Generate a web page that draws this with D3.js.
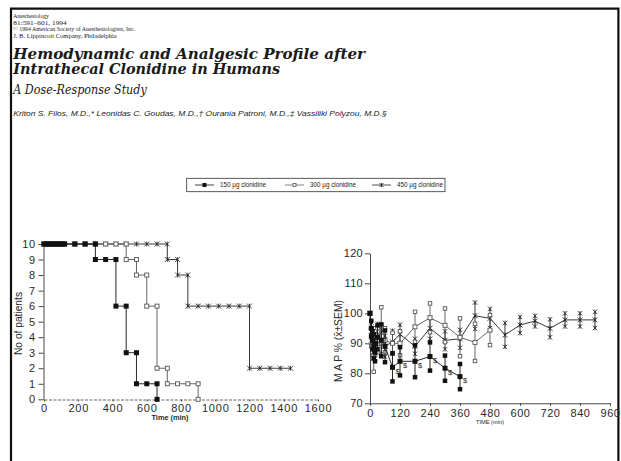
<!DOCTYPE html>
<html>
<head>
<meta charset="utf-8">
<script src="https://cdn.jsdelivr.net/npm/d3@7"></script>
<style>
  html, body { margin: 0; padding: 0; background: #fff; }
  svg { display: block; }
</style>
</head>
<body>
<svg id="page" width="621" height="461"></svg>
<script>
// ---- article header text ----
const headerLines = [
  "Anesthesiology",
  "81:591–601, 1994",
  "© 1994 American Society of Anesthesiologists, Inc.",
  "J. B. Lippincott Company, Philadelphia"
];
const titleLines = ["Hemodynamic and Analgesic Profile after", "Intrathecal Clonidine in Humans"];
const subtitle = "A Dose-Response Study";
const authors = "Kriton S. Filos, M.D.,* Leonidas C. Goudas, M.D.,† Ourania Patroni, M.D.,‡ Vassiliki Polyzou, M.D.§";

// ---- legend ----
const doseLabels = ["150 µg clonidine", "300 µg clonidine", "450 µg clonidine"];
const doseSymbols = ["filled", "open", "cross"];

// ---- left panel: number of patients still without pain, by time (min) ----
const patientTicks = [0, 1, 2, 3, 4, 5, 6, 7, 8, 9, 10];
const timeTicksLeft = [0, 200, 400, 600, 800, 1000, 1200, 1400, 1600];

const kmTime150  = [0, 15, 30, 45, 60, 75, 90, 105, 120, 180, 240, 300, 300, 360, 420, 420, 480, 480, 540, 540, 600, 660, 660];
const kmCount150 = [10, 10, 10, 10, 10, 10, 10, 10, 10, 10, 10, 10, 9, 9, 9, 6, 6, 3, 3, 1, 1, 1, 0];

const kmTime300  = [0, 15, 30, 45, 60, 75, 90, 105, 120, 180, 240, 300, 360, 420, 480, 480, 540, 540, 600, 600, 660, 660, 720, 720, 780, 840, 900, 900];
const kmCount300 = [10, 10, 10, 10, 10, 10, 10, 10, 10, 10, 10, 10, 10, 10, 10, 9, 9, 8, 8, 6, 6, 2, 2, 1, 1, 1, 1, 0];

const kmTime450  = [0, 15, 30, 45, 60, 75, 90, 105, 120, 180, 240, 300, 360, 420, 480, 540, 600, 660, 720, 720, 780, 780, 840, 840, 900, 960, 1020, 1080, 1140, 1200, 1200, 1260, 1320, 1380, 1440];
const kmCount450 = [10, 10, 10, 10, 10, 10, 10, 10, 10, 10, 10, 10, 10, 10, 10, 10, 10, 10, 10, 9, 9, 8, 8, 6, 6, 6, 6, 6, 6, 6, 2, 2, 2, 2, 2];

// ---- right panel: mean arterial pressure, % of baseline (mean ± SEM) ----
const mapTicks = [70, 80, 90, 100, 110, 120];
const timeTicksRight = [0, 120, 240, 360, 480, 600, 720, 840, 960];

const mapTime150 = [0, 5, 10, 15, 20, 30, 45, 60, 90, 120, 180, 240, 300, 360];
const mapMean150 = [100, 95, 91, 89, 87, 92, 91, 89, 82, 84, 84, 85.6, 81.7, 78.9];
const mapSem150  = [0, 2.5, 3, 4, 3, 4, 5.3, 5.3, 4.7, 4.7, 5.3, 4.7, 4.2, 4.2];
const sigTime150 = [90, 120, 180, 240, 300, 360];

const mapTime300 = [0, 5, 10, 15, 20, 30, 45, 60, 90, 120, 180, 240, 300, 360, 420, 480];
const mapMean300 = [100, 92, 89, 86, 90, 91, 96, 91, 90, 90, 95.5, 98.5, 96, 92, 90.3, 94.4];
const mapSem300  = [0, 3, 4, 5.5, 4, 4, 6, 4, 3.5, 4, 5, 4.8, 5.6, 6.3, 6.2, 5];

const mapTime450 = [0, 5, 10, 15, 20, 30, 45, 60, 90, 120, 180, 240, 300, 360, 420, 480, 540, 600, 660, 720, 780, 840, 900];
const mapMean450 = [100, 94, 92, 90, 88, 93, 90, 89, 90.5, 93, 89, 95, 91, 91.5, 99.2, 98.3, 92.8, 96.1, 97.4, 95, 97.8, 97.8, 97.8];
const mapSem450  = [0, 3, 3, 3, 3, 3.5, 3.5, 3.5, 3.7, 3.2, 2.5, 3.5, 3, 3, 4.4, 3.2, 4, 2.7, 1.8, 3, 2.2, 2.2, 2.7];

// ---------------------------------------------------------------
const svg = d3.select("#page");
const SANS = "'Liberation Sans', Arial, sans-serif";
const SERIF = "'DejaVu Serif', 'Liberation Serif', serif";
const TIMES = "'Liberation Serif', 'Times New Roman', serif";
const INK = "#1a1a1a";

// page frame
svg.append("path")
  .attr("d", "M11,461 V8.6 H618.4 V461")
  .attr("fill", "none").attr("stroke", "#111").attr("stroke-width", 2.2);

// fit a text element to a given width
function fitted(sel, width) {
  return sel.attr("textLength", width).attr("lengthAdjust", "spacingAndGlyphs");
}

// header block
const headerWidths = [35.7, 53.4, 121.7, 103.4];
headerLines.forEach((s, i) => {
  fitted(svg.append("text")
    .attr("x", 13.3).attr("y", 17.8 + i * 6.8)
    .attr("font-family", TIMES).attr("font-size", 6).attr("fill", INK)
    .text(s), headerWidths[i]);
});

const titleWidths = [351.7, 266.7];
titleLines.forEach((s, i) => {
  fitted(svg.append("text")
    .attr("x", 13.3).attr("y", 59.3 + i * 15)
    .attr("font-family", SERIF).attr("font-size", 14.5)
    .attr("font-weight", "bold").attr("font-style", "italic").attr("fill", INK)
    .text(s), titleWidths[i]);
});

fitted(svg.append("text")
  .attr("x", 13.3).attr("y", 94)
  .attr("font-family", SERIF).attr("font-size", 12.5)
  .attr("font-style", "italic").attr("fill", INK)
  .text(subtitle), 133.4);

fitted(svg.append("text")
  .attr("x", 13.3).attr("y", 115.7)
  .attr("font-family", SANS).attr("font-size", 8)
  .attr("font-style", "italic").attr("fill", INK)
  .text(authors), 373.4);

// ---- markers ----
function markers(g, kind, pts, size, color) {
  const h = size / 2;
  if (kind === "filled") {
    g.selectAll(null).data(pts).join("rect")
      .attr("x", d => d[0] - h).attr("y", d => d[1] - h)
      .attr("width", size).attr("height", size)
      .attr("fill", "#111");
  } else if (kind === "open") {
    g.selectAll(null).data(pts).join("rect")
      .attr("x", d => d[0] - h + 0.5).attr("y", d => d[1] - h + 0.5)
      .attr("width", size - 1).attr("height", size - 1)
      .attr("fill", "#fff").attr("stroke", color || "#444").attr("stroke-width", 0.9);
  } else {
    g.selectAll(null).data(pts).join("path")
      .attr("d", d => `M${d[0] - h},${d[1] - h}L${d[0] + h},${d[1] + h}M${d[0] - h},${d[1] + h}L${d[0] + h},${d[1] - h}M${d[0]},${d[1] - h}V${d[1] + h}`)
      .attr("fill", "none").attr("stroke", color || "#222").attr("stroke-width", 0.8);
  }
}

// ---- legend ----
const legend = svg.append("g");
legend.append("rect")
  .attr("x", 186.7).attr("y", 178.3).attr("width", 258.3).attr("height", 13.4)
  .attr("fill", "none").attr("stroke", "#333").attr("stroke-width", 0.8);
const legendOffsets = [195, 285, 372];
const legendColors = ["#111", "#666", "#222"];
doseLabels.forEach((lab, i) => {
  const x0 = legendOffsets[i];
  const g = legend.append("g");
  g.append("line").attr("x1", x0).attr("x2", x0 + 19).attr("y1", 185).attr("y2", 185)
    .attr("stroke", legendColors[i]).attr("stroke-width", 0.8);
  markers(g, doseSymbols[i], [[x0 + 9.5, 185]], 4, legendColors[i]);
  g.append("text").attr("x", x0 + 25).attr("y", 187.4)
    .attr("font-family", SANS).attr("font-size", 6.3).attr("fill", "#222")
    .text(lab);
});

// ---- axis styling ----
function styleAxis(ax, fontSize, spacing) {
  ax.selectAll("path, line").attr("stroke", "#333").attr("stroke-width", 0.9);
  ax.selectAll("text")
    .attr("font-family", SANS).attr("font-size", fontSize)
    .attr("fill", "#2a2a2a").attr("letter-spacing", spacing);
}

// ================= left panel =================
const xL = d3.scaleLinear().domain([0, 1600]).range([44, 318]);
const yL = d3.scaleLinear().domain([0, 10]).range([399.3, 244]);
const left = svg.append("g");

const axLy = left.append("g").attr("transform", "translate(43.5,0)")
  .call(d3.axisLeft(yL).tickValues(patientTicks).tickFormat(d3.format("d")).tickSize(5).tickSizeOuter(0).tickPadding(2.5));
styleAxis(axLy, 11, 0.8);
const axLx = left.append("g").attr("transform", "translate(0,399.5)")
  .call(d3.axisBottom(xL).tickValues(timeTicksLeft).tickFormat(d3.format("d")).tickSize(2).tickSizeOuter(0).tickPadding(2.5));
styleAxis(axLx, 11, 0.8);
axLx.select(".domain").attr("stroke", "#555").attr("stroke-dasharray", "3,1.5");

fitted(left.append("text")
  .attr("transform", "translate(21.5,323.5) rotate(-90)")
  .attr("text-anchor", "middle")
  .attr("font-family", SANS).attr("font-size", 10.5).attr("fill", "#2a2a2a")
  .text("No of patients"), 63);

fitted(left.append("text")
  .attr("x", 170).attr("y", 419.5).attr("text-anchor", "middle")
  .attr("font-family", SANS).attr("font-size", 7.3).attr("font-weight", "bold").attr("fill", "#2a2a2a")
  .text("Time (min)"), 37);

const kmSeries = [
  { t: kmTime450, n: kmCount450, kind: "cross",  color: "#222" },
  { t: kmTime300, n: kmCount300, kind: "open",   color: "#555" },
  { t: kmTime150, n: kmCount150, kind: "filled", color: "#111" }
];
const kmLine = d3.line().x(d => xL(d[0])).y(d => yL(d[1]));
kmSeries.forEach(s => {
  const pts = s.t.map((t, i) => [t, s.n[i]]);
  const g = left.append("g");
  g.append("path").attr("d", kmLine(pts))
    .attr("fill", "none").attr("stroke", s.color).attr("stroke-width", 0.9);
  markers(g, s.kind, pts.map(p => [xL(p[0]), yL(p[1])]), 5, s.color);
});

// ================= right panel =================
const xR = d3.scaleLinear().domain([0, 960]).range([370, 610]);
const yR = d3.scaleLinear().domain([70, 120]).range([403.3, 253.3]);
const right = svg.append("g");

const axRy = right.append("g").attr("transform", "translate(370,0)")
  .call(d3.axisLeft(yR).tickValues(mapTicks).tickSize(5).tickSizeOuter(0).tickPadding(2));
styleAxis(axRy, 11, 0.3);
const axRx = right.append("g").attr("transform", "translate(0,403.3)")
  .call(d3.axisBottom(xR).tickValues(timeTicksRight).tickSize(2.5).tickSizeOuter(0).tickPadding(3));
styleAxis(axRx, 11, 0.6);

fitted(right.append("text")
  .attr("transform", "translate(341.5,341) rotate(-90)")
  .attr("text-anchor", "middle")
  .attr("font-family", SANS).attr("font-size", 10).attr("fill", "#2a2a2a")
  .text("M A P % (x̄±SEM)"), 82);

fitted(right.append("text")
  .attr("x", 490).attr("y", 424).attr("text-anchor", "middle")
  .attr("font-family", SANS).attr("font-size", 5.8).attr("fill", "#2a2a2a")
  .text("TIME (min)"), 28);

const mapSeries = [
  { t: mapTime450, m: mapMean450, e: mapSem450, kind: "cross",  color: "#222" },
  { t: mapTime300, m: mapMean300, e: mapSem300, kind: "open",   color: "#555" },
  { t: mapTime150, m: mapMean150, e: mapSem150, kind: "filled", color: "#111" }
];
const mapLine = d3.line().x(d => xR(d.t)).y(d => yR(d.m));
mapSeries.forEach(s => {
  const pts = s.t.map((t, i) => ({ t, m: s.m[i], e: s.e[i] }));
  const g = right.append("g");
  g.selectAll(null).data(pts.filter(d => d.e > 0)).join("line")
    .attr("x1", d => xR(d.t)).attr("x2", d => xR(d.t))
    .attr("y1", d => yR(d.m - d.e)).attr("y2", d => yR(d.m + d.e))
    .attr("stroke", s.color).attr("stroke-width", 0.9);
  g.append("path").attr("d", mapLine(pts))
    .attr("fill", "none").attr("stroke", s.color).attr("stroke-width", 0.9);
  const caps = [];
  pts.forEach(d => {
    if (d.e > 0) {
      caps.push([xR(d.t), yR(d.m + d.e)]);
      caps.push([xR(d.t), yR(d.m - d.e)]);
    }
  });
  markers(g, s.kind, caps, 4.5, s.color);
  markers(g, s.kind, pts.map(d => [xR(d.t), yR(d.m)]), 5, s.color);
});

// significance marks on the 150 µg curve
right.append("g").selectAll(null)
  .data(sigTime150.map(t => ({ t, m: mapMean150[mapTime150.indexOf(t)] })))
  .join("text")
  .attr("x", d => xR(d.t) + 3).attr("y", d => yR(d.m) + 6.5)
  .attr("font-family", SANS).attr("font-size", 7.5).attr("fill", "#222")
  .text("$");
</script>
</body>
</html>
